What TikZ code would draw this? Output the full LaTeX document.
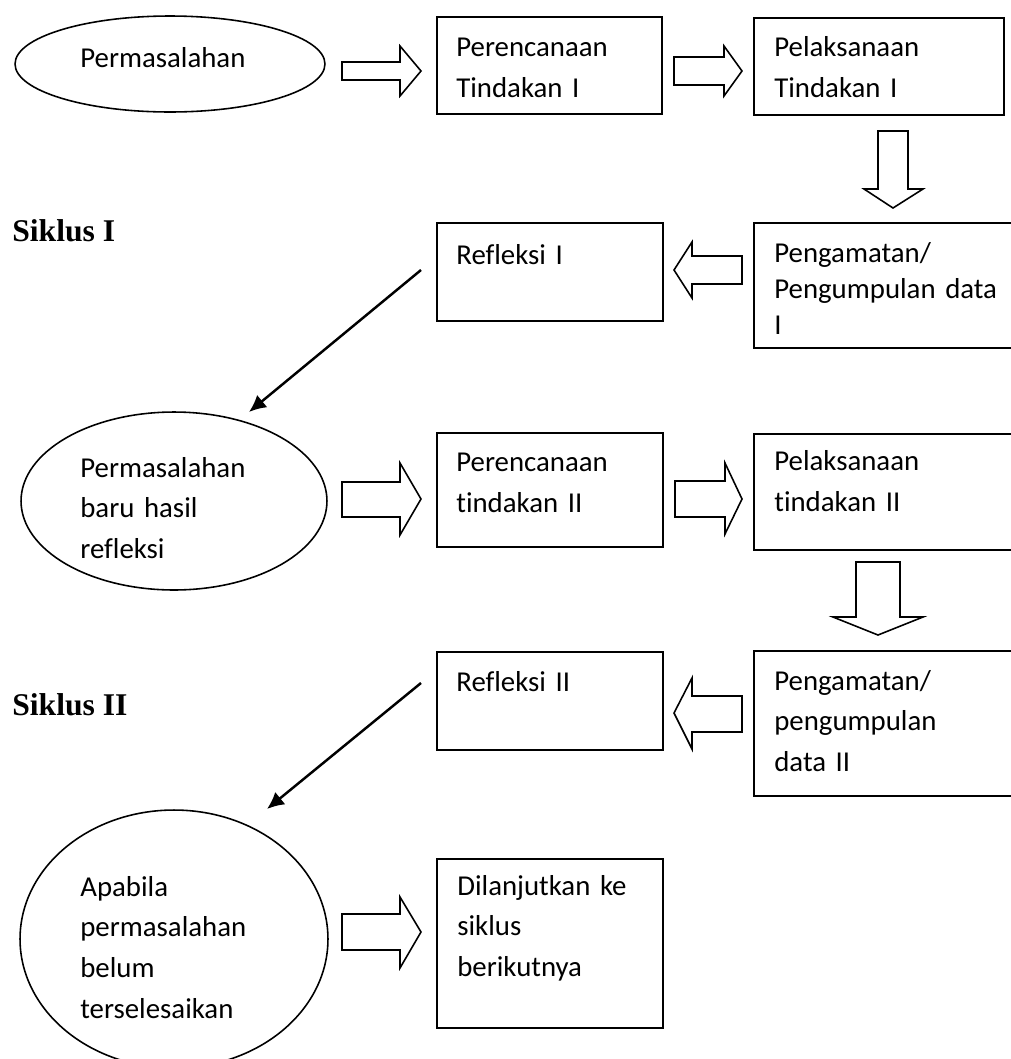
\documentclass[tikz,border=0pt]{standalone}
\usepackage{fontspec}
\setmainfont{Carlito}[Ligatures=NoCommon]
\newfontfamily\sikfont{Liberation Serif}
\usetikzlibrary{arrows.meta,shapes.geometric}
\begin{document}
\begin{tikzpicture}[x=0.02cm,y=-0.02cm,
  box/.style={draw, line width=1.1pt, rectangle, anchor=north west, inner sep=0pt},
  oval/.style={draw, line width=0.9pt, ellipse, inner sep=0pt},
  barrow/.style={draw, line width=0.9pt, line join=miter},
  larrow/.style={draw, line width=1.4pt, -{Latex[length=0.34cm,width=0.32cm]}},
  lbl/.style={anchor=base west, inner sep=0pt, text width=6cm, align=left,
    font=\fontsize{16.4}{#1}\selectfont},
  lbl/.default=23.3pt,
  sik/.style={anchor=base west, inner sep=0pt, font=\sikfont\bfseries\fontsize{18}{22}\selectfont}]
\useasboundingbox (0,0) rectangle (1011,1059);
\clip (0,0) rectangle (1011,1059);

% ---- Siklus I ----
\node[oval, minimum width=6.2cm, minimum height=1.92cm] (e1) at (170,64) {};
\node[lbl] (te1) at (80,67) {Permasalahan};

\node[box, minimum width=4.5cm, minimum height=1.94cm] (b1) at (436,16) {};
\node[lbl=23.8pt] (tb1) at (456,56) {Perencanaan\\Tindakan I};

\node[box, minimum width=5.0cm, minimum height=1.94cm] (b2) at (753,17) {};
\node[lbl=23.8pt] (tb2) at (774,56) {Pelaksanaan\\Tindakan I};

\node[box, minimum width=5.54cm, minimum height=2.5cm] (b3) at (753,222) {};
\node[lbl=20.5pt] (tb3) at (774,262) {Pengamatan/\\Pengumpulan data\\I};

\node[box, minimum width=4.52cm, minimum height=1.96cm] (b4) at (436,222) {};
\node[lbl] (tb4) at (456,264) {Refleksi I};

\node[sik] (s1) at (12,241) {Siklus I};

% block arrows
\draw[barrow] (342,62)--(400,62)--(400,46)--(421,71)--(400,96)--(400,80)--(342,80)--cycle;
\draw[barrow] (674,57)--(724,57)--(724,46)--(742,71)--(724,96)--(724,85)--(674,85)--cycle;
\draw[barrow] (878,131)--(908,131)--(908,189)--(923,189)--(893,208)--(864,189)--(878,189)--cycle;
\draw[barrow] (742,256)--(692,256)--(692,242)--(674,270)--(692,298)--(692,284)--(742,284)--cycle;

% ---- Siklus II ----
\node[oval, minimum width=6.12cm, minimum height=3.56cm] (e2) at (174,501) {};
\node[lbl] (te2) at (80,477) {Permasalahan\\baru hasil\\refleksi};

\node[box, minimum width=4.52cm, minimum height=2.28cm] (c1) at (436,432) {};
\node[lbl=23.8pt] (tc1) at (456,471) {Perencanaan\\tindakan II};

\node[box, minimum width=5.54cm, minimum height=2.32cm] (c2) at (753,433) {};
\node[lbl=23.8pt] (tc2) at (774,470) {Pelaksanaan\\tindakan II};

\node[box, minimum width=5.54cm, minimum height=2.9cm] (c3) at (753,650) {};
\node[lbl] (tc3) at (774,690) {Pengamatan/\\pengumpulan\\data II};

\node[box, minimum width=4.52cm, minimum height=1.96cm] (c4) at (436,651) {};
\node[lbl] (tc4) at (456,691) {Refleksi II};

\node[sik] (s2) at (12,715) {Siklus II};

\draw[barrow] (342,482)--(400,482)--(400,463)--(421,499)--(400,535)--(400,517)--(342,517)--cycle;
\draw[barrow] (675,481)--(725,481)--(725,463)--(742,499)--(725,534)--(725,517)--(675,517)--cycle;
\draw[barrow] (856,562)--(900,562)--(900,617)--(923,617)--(878,635)--(833,617)--(856,617)--cycle;
\draw[barrow] (742,696)--(692,696)--(692,678)--(674,713)--(692,749)--(692,732)--(742,732)--cycle;

% ---- final ----
\node[oval, minimum width=6.16cm, minimum height=5.16cm] (e3) at (174,939) {};
\node[lbl] (te3) at (80,896) {Apabila\\permasalahan\\belum\\terselesaikan};

\node[box, minimum width=4.52cm, minimum height=3.38cm] (d1) at (436,858) {};
\node[lbl] (td1) at (457,895) {Dilanjutkan ke\\siklus\\berikutnya};

\draw[barrow] (342,914)--(400,914)--(400,897)--(421,932)--(400,968)--(400,950)--(342,950)--cycle;

% line arrows
\coordinate (p1) at (421,270);
\coordinate (q1) at (249,412);
\draw[larrow] (p1) -- (q1);
\coordinate (p2) at (421,683);
\coordinate (q2) at (267,809);
\draw[larrow] (p2) -- (q2);
\end{tikzpicture}
\end{document}
